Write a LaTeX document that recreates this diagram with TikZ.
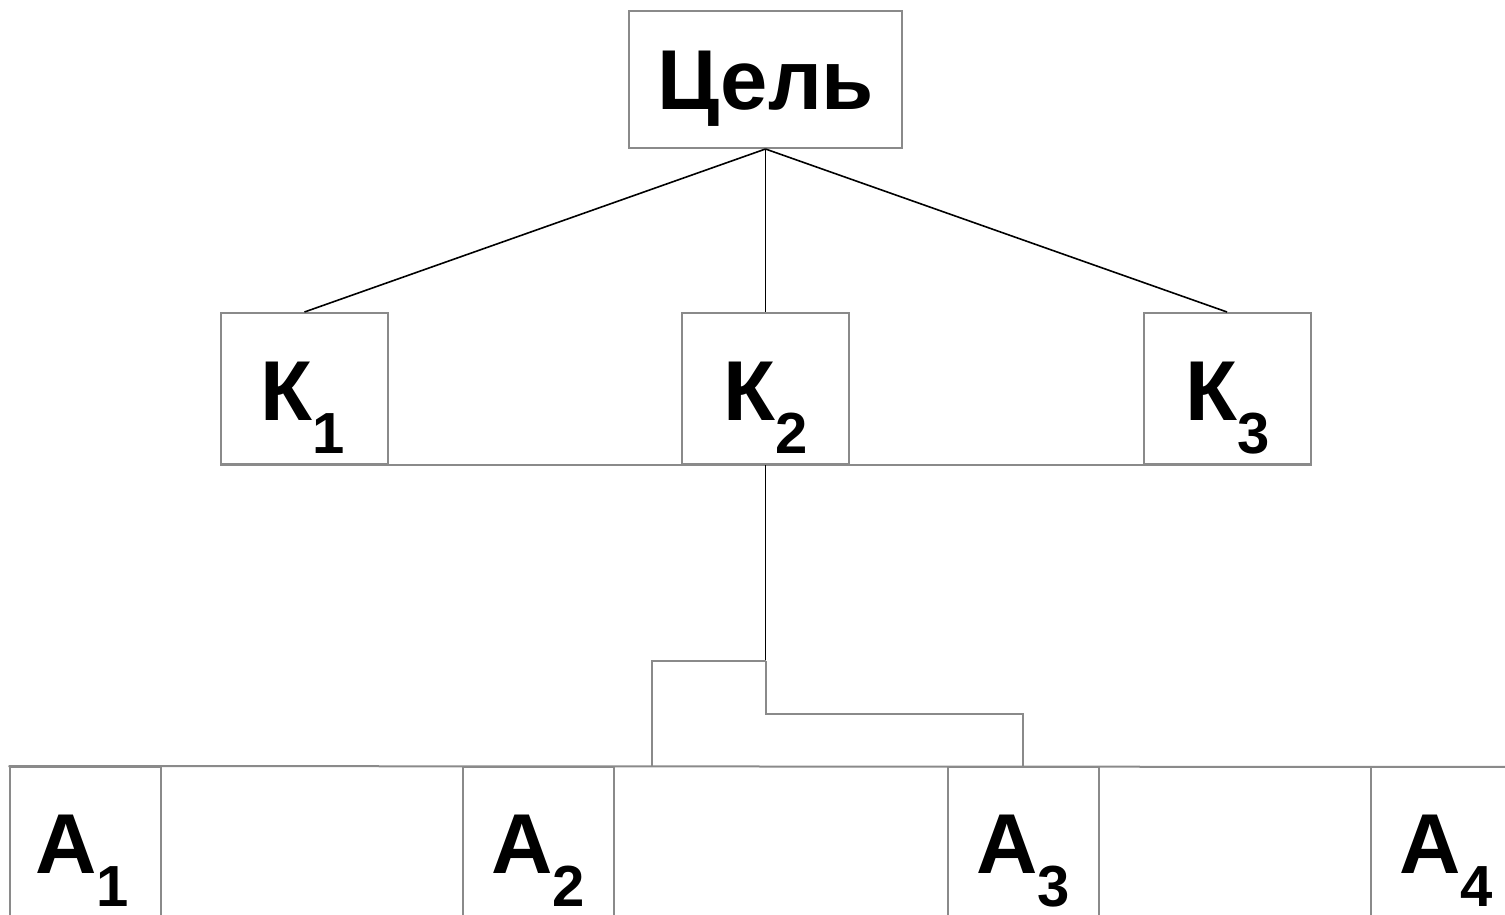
\documentclass[tikz,border=0pt]{standalone}
\usepackage{fontspec}
\setmainfont{Liberation Sans}

\definecolor{boxgrey}{HTML}{8A8A8A}

\newcommand\mainsz{\fontsize{42.5pt}{50pt}\selectfont\bfseries}
\newcommand\subsz{\fontsize{29pt}{34pt}\selectfont\bfseries}
\newcommand\withsub[2]{#1\raisebox{-16.5pt}{\subsz #2}}

\tikzset{
  box/.style={draw=boxgrey, line width=1pt, inner sep=0pt},
  goalbox/.style={box, minimum width=136.5pt, minimum height=68.5pt},
  kbox/.style={box, minimum width=83.5pt, minimum height=75.5pt},
  abox/.style={box, minimum width=75.5pt, minimum height=80pt},
  lbl/.style={anchor=base, inner sep=0pt, font=\mainsz},
  link/.style={black, line width=0.8pt},
  glink/.style={boxgrey, line width=1pt},
}

\begin{document}
\begin{tikzpicture}[x=0.5pt, y=-0.5pt]
  \useasboundingbox (0,0) rectangle (1505,915);
  \clip (0,0) rectangle (1505,915);

  % goal and criteria
  \node[goalbox] (goal) at (765.5,79.5) {};
  \node[kbox] (K1) at (304.5,388.5) {};
  \node[kbox] (K2) at (765.5,388.5) {};
  \node[kbox] (K3) at (1227,388.5) {};

  % alternatives (cut off at the lower edge)
  \node[abox] (A1) at (85,847) {};
  \node[abox] (A2) at (538.5,847) {};
  \node[abox] (A3) at (1023,847) {};
  \node[abox] (A4) at (1446.5,847) {};

  % labels
  \node[lbl] (tG) at (766,110) {Цель};
  \node[lbl] (tK1) at (303,420) {\withsub{К}{1}};
  \node[lbl] (tK2) at (766,420) {\withsub{К}{2}};
  \node[lbl] (tK3) at (1228,420) {\withsub{К}{3}};
  \node[lbl] (tA1) at (82,873) {\withsub{А}{1}};
  \node[lbl] (tA2) at (538,873) {\withsub{А}{2}};
  \node[lbl] (tA3) at (1023,873) {\withsub{А}{3}};
  \node[lbl] (tA4) at (1446,873) {\withsub{А}{4}};

  % goal to criteria
  \draw[link] (goal.south) -- (K1.north);
  \draw[link] (goal.south) -- (K2.north);
  \draw[link] (goal.south) -- (K3.north);

  % baseline under the criteria and top line of the alternatives
  \coordinate (rowend) at (1530,767);
  \draw[glink] (K1.south west) -- (K3.south east);
  \draw[glink] (A1.north west) -- (rowend);

  % branching from K2 down to the alternatives
  \coordinate (j) at (765.5,661);
  \coordinate (jl) at (652,661);
  \coordinate (jlb) at (652,767);
  \coordinate (jr) at (765.5,714);
  \draw[link] (K2.south) -- (j);
  \draw[glink] (j) -- (jl) -- (jlb);
  \draw[glink] (j) -- (jr) -| (A3.north);
\end{tikzpicture}
\end{document}
